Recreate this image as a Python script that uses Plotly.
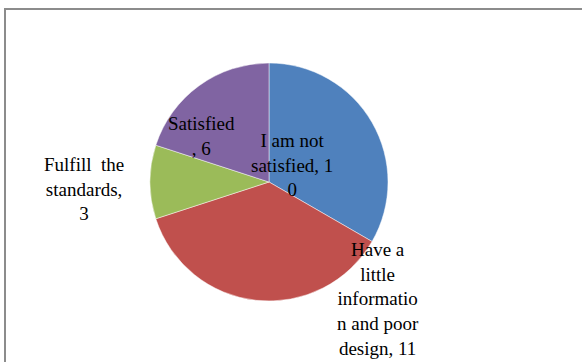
import plotly.graph_objects as go

# Survey responses
categories = [
    "I am not satisfied",
    "Have a little information and poor design",
    "Fulfill the standards",
    "Satisfied",
]
values = [10, 11, 3, 6]
colors = ["#4F81BD", "#C0504D", "#9BBB59", "#8064A2"]

# Wrapped data labels, as they are laid out in the chart
label_lines = [
    ["I am not", "satisfied, 1", "0"],
    ["Have a", "little", "informatio", "n and poor", "design, 11"],
    ["Fulfill\u00a0 the", "standards,", "3"],
    ["Satisfied", ", 6"],
]
# label centres in pixels (x, y from top)
label_pos = [(292, 165), (378, 299), (84, 189), (201, 136)]

W, H = 582, 362
cx, cy, r = 269, 182, 119

fig = go.Figure(
    go.Pie(
        labels=categories,
        values=values,
        sort=False,
        direction="clockwise",
        rotation=0,
        marker=dict(colors=colors, line=dict(color="rgba(255,255,255,0.6)", width=0.8)),
        textinfo="none",
        hoverinfo="label+value",
        showlegend=False,
        domain=dict(
            x=[(cx - r) / W, (cx + r) / W],
            y=[(H - cy - r) / H, (H - cy + r) / H],
        ),
    )
)

for lines, (px, py) in zip(label_lines, label_pos):
    fig.add_annotation(
        x=px / W,
        y=1 - py / H,
        xref="paper",
        yref="paper",
        text="<br>".join(lines),
        showarrow=False,
        xanchor="center",
        yanchor="middle",
        align="center",
        font=dict(family="Times New Roman", size=19, color="#000000"),
    )

# chart-area frame (runs past the right and bottom edges)
fig.add_shape(
    type="rect",
    xref="paper",
    yref="paper",
    x0=5 / W,
    x1=1.05,
    y0=-0.05,
    y1=1 - 9 / H,
    line=dict(color="#8C8C8C", width=2),
    fillcolor="rgba(0,0,0,0)",
)

fig.update_layout(
    width=W,
    height=H,
    margin=dict(l=0, r=0, t=0, b=0),
    paper_bgcolor="white",
    plot_bgcolor="white",
    font=dict(family="Times New Roman"),
)

fig.write_html("out.html")
